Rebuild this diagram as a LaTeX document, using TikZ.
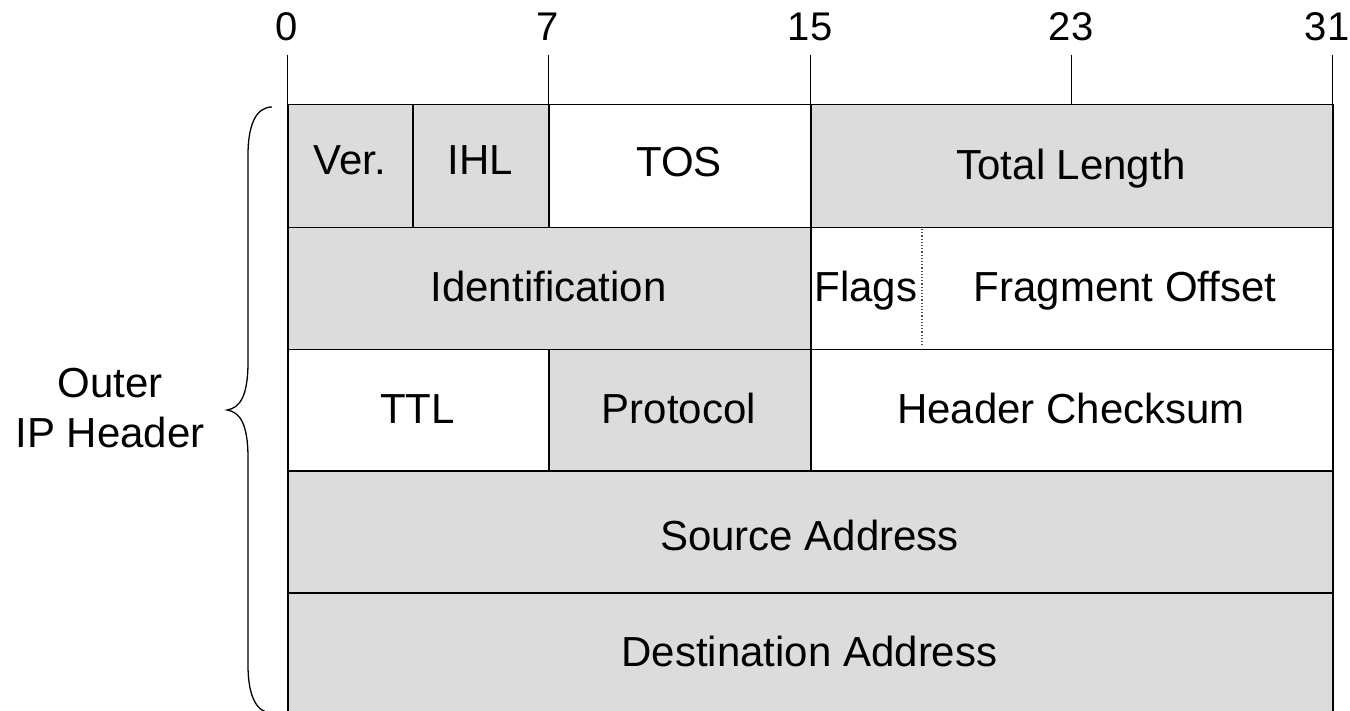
\documentclass[tikz,border=0pt]{standalone}
\usepackage{fontspec}
\setmainfont{Liberation Sans}
\definecolor{gfill}{HTML}{DCDCDC}
\definecolor{dotc}{HTML}{505050}
\begin{document}
\begin{tikzpicture}[x=1pt,y=-1pt,
  field/.style={draw=black, line width=1.5pt, inner sep=0pt, anchor=north west},
  gray field/.style={field, fill=gfill},
  white field/.style={field, fill=white},
  lbl/.style={anchor=base, inner sep=0pt, font=\fontsize{42}{50}\selectfont},
  bitnum/.style={anchor=base, inner sep=0pt, font=\fontsize{40}{46}\selectfont},
  tick/.style={line width=1pt, black},
  bracestyle/.style={line width=1.3pt, black}]
\clip (0,0) rectangle (1350,711);
\fill[white] (0,0) rectangle (1350,711);

% bit ruler
\foreach \n/\x/\lx in {0/287/287,7/548/548,15/810/810,23/1071/1071,31/1332/1327}{
  \coordinate (t\n) at (\x,55);
  \coordinate (b\n) at (\x,104);
  \node[bitnum] (num\n) at (\lx,41) {\n};
  \draw[tick] (t\n) -- (b\n);
}

% row 1
\node[gray field, minimum width=125pt, minimum height=123pt] (ver) at (287,104) {};
\node[gray field, minimum width=136pt, minimum height=123pt] (ihl) at (412,104) {};
\node[white field, minimum width=262pt, minimum height=123pt] (tos) at (548,104) {};
\node[gray field, minimum width=522pt, minimum height=123pt] (tlen) at (810,104) {};
% row 2
\node[gray field, minimum width=523pt, minimum height=122pt] (ident) at (287,227) {};
\node[white field, minimum width=522pt, minimum height=122pt] (flagfrag) at (810,227) {};
\coordinate (dtop) at (922,229);
\coordinate (dbot) at (922,347);
\draw[dotc, line width=1.2pt, dotted] (dtop) -- (dbot);
% row 3
\node[white field, minimum width=261pt, minimum height=121pt] (ttl) at (287,349) {};
\node[gray field, minimum width=262pt, minimum height=121pt] (proto) at (548,349) {};
\node[white field, minimum width=522pt, minimum height=121pt] (cksum) at (810,349) {};
% row 4
\node[gray field, minimum width=1045pt, minimum height=122pt] (src) at (287,470) {};
% row 5
\node[gray field, minimum width=1045pt, minimum height=160pt] (dst) at (287,592) {};

% labels
\node[lbl] (lver) at (349.5,175) {Ver.};
\node[lbl] (lihl) at (480,175) {IHL};
\node[lbl] (ltos) at (679,177) {TOS};
\node[lbl] (ltlen) at (1071,180) {Total Length};
\node[lbl] (lident) at (548.5,301.5) {Identification};
\node[lbl] (lflags) at (866,301.5) {Flags};
\node[lbl] (lfrag) at (1125,301.5) {Fragment Offset};
\node[lbl] (lttl) at (417.5,423) {TTL};
\node[lbl] (lproto) at (679,423) {Protocol};
\node[lbl] (lcksum) at (1071,423) {Header Checksum};
\node[lbl] (lsrc) at (809.5,550) {Source Address};
\node[lbl] (ldst) at (809.5,666.5) {Destination Address};

% brace
\coordinate (brtop) at (272,107);
\coordinate (brtip) at (227,410);
\coordinate (brbot) at (272,713);
\draw[bracestyle] (brtop) .. controls (256,107) and (248,125) .. (248,155)
  -- (248,362) .. controls (248,396) and (240,408) .. (brtip)
  .. controls (240,412) and (248,424) .. (248,458)
  -- (248,665) .. controls (248,695) and (256,713) .. (brbot);
\node[lbl, align=center, anchor=base] (outer) at (110,447) {Outer\\IP Header};
\end{tikzpicture}
\end{document}
